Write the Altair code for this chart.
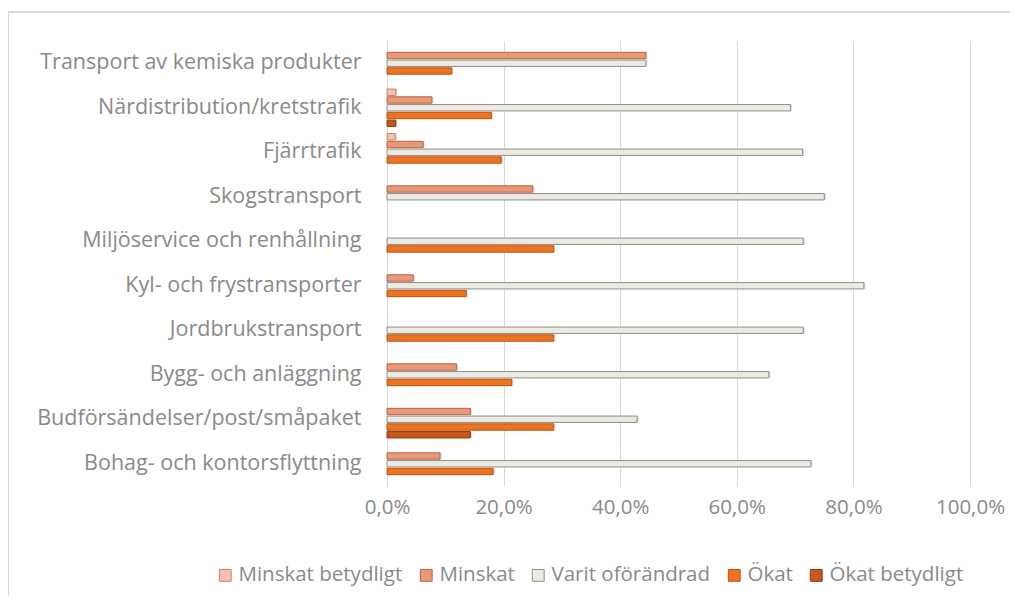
import altair as alt
import pandas as pd

categories = [
    "Transport av kemiska produkter",
    "Närdistribution/kretstrafik",
    "Fjärrtrafik",
    "Skogstransport",
    "Miljöservice och renhållning",
    "Kyl- och frystransporter",
    "Jordbrukstransport",
    "Bygg- och anläggning",
    "Budförsändelser/post/småpaket",
    "Bohag- och kontorsflyttning",
]
series = ["Minskat betydligt", "Minskat", "Varit oförändrad", "Ökat", "Ökat betydligt"]

minskat_betydligt = [0, 1.5, 1.4, 0, 0, 0, 0, 0, 0, 0]
minskat = [44.4, 7.7, 6.2, 25.0, 0, 4.5, 0, 11.9, 14.3, 9.1]
varit_oforandrad = [44.4, 69.2, 71.3, 75.0, 71.4, 81.8, 71.4, 65.5, 42.9, 72.7]
okat = [11.1, 17.9, 19.6, 0, 28.6, 13.6, 28.6, 21.4, 28.6, 18.2]
okat_betydligt = [0, 1.5, 0, 0, 0, 0, 0, 0, 14.3, 0]
x_ticks = [0, 20, 40, 60, 80, 100]

fills = ["#f6c2ad", "#eb9877", "#eceae2", "#ee7422", "#c9561a"]
strokes = ["#c7826c", "#b5654a", "#8f8f88", "#b9540f", "#8c3a0c"]

rows = []
for s, vals in zip(series, [minskat_betydligt, minskat, varit_oforandrad, okat, okat_betydligt]):
    for c, v in zip(categories, vals):
        rows.append({"category": c, "series": s, "value": v})
df = pd.DataFrame(rows)

FONT = "Open Sans"
GREY = "#8a8a8a"

y_enc = alt.Y(
    "category:N",
    sort=categories,
    scale=alt.Scale(paddingInner=0.16, paddingOuter=0.08),
    axis=alt.Axis(
        title=None,
        labelFontSize=21.5,
        labelColor=GREY,
        labelFont=FONT,
        ticks=False,
        domainColor="#d9d9d9",
        labelPadding=26,
        labelLimit=400,
    ),
)
yoff_enc = alt.YOffset(
    "series:N", sort=series, scale=alt.Scale(domain=series, paddingInner=0.18)
)
x_enc = alt.X(
    "value:Q",
    scale=alt.Scale(domain=[0, 100], nice=False),
    axis=alt.Axis(
        title=None,
        values=x_ticks,
        labelExpr="replace(format(datum.value, '.1f'), '.', ',') + '%'",
        labelFlush=False,
        labelAlign="center",
        grid=True,
        gridColor="#d9d9d9",
        domain=False,
        ticks=False,
        labelFontSize=20.5,
        labelFont=FONT,
        labelColor=GREY,
        labelPadding=11,
    ),
)

base = alt.Chart(df).transform_filter("datum.value > 0")

shadow = base.mark_bar(color="#8a8a8a", opacity=0.3, yOffset=2, xOffset=1.5).encode(
    y=y_enc, yOffset=yoff_enc, x=x_enc
)

bars = base.mark_bar(strokeWidth=1).encode(
    y=y_enc,
    yOffset=yoff_enc,
    x=x_enc,
    color=alt.Color(
        "series:N",
        sort=series,
        scale=alt.Scale(domain=series, range=fills),
        legend=alt.Legend(
            title=None,
            orient="none",
            legendX=-172,
            legendY=524,
            direction="horizontal",
            symbolType="square",
            symbolSize=140,
            symbolStrokeWidth=1,
            labelFontSize=20.5,
            labelFont=FONT,
            labelColor=GREY,
            labelOffset=3,
            columnPadding=13,
            labelLimit=300,
        ),
    ),
    stroke=alt.Stroke(
        "series:N", sort=series, scale=alt.Scale(domain=series, range=strokes), legend=None
    ),
)

border_left = alt.Chart(df).mark_rule(color="#d9d9d9", strokeWidth=1.5).encode(
    x=alt.value(-379), y=alt.value(-29), y2=alt.value(600)
)
border_top = alt.Chart(df).mark_rule(color="#d9d9d9", strokeWidth=1.5).encode(
    x=alt.value(-379), x2=alt.value(700), y=alt.value(-29)
)

chart = (
    alt.layer(border_left, border_top, shadow, bars)
    .properties(
        width=583,
        height=445,
        autosize=alt.AutoSizeParams(type="none"),
        padding={"left": 379, "top": 33, "right": 40, "bottom": 110},
    )
    .configure_view(stroke="transparent")
)

chart.save("out.html", embed_options={"renderer": "svg", "actions": False})
